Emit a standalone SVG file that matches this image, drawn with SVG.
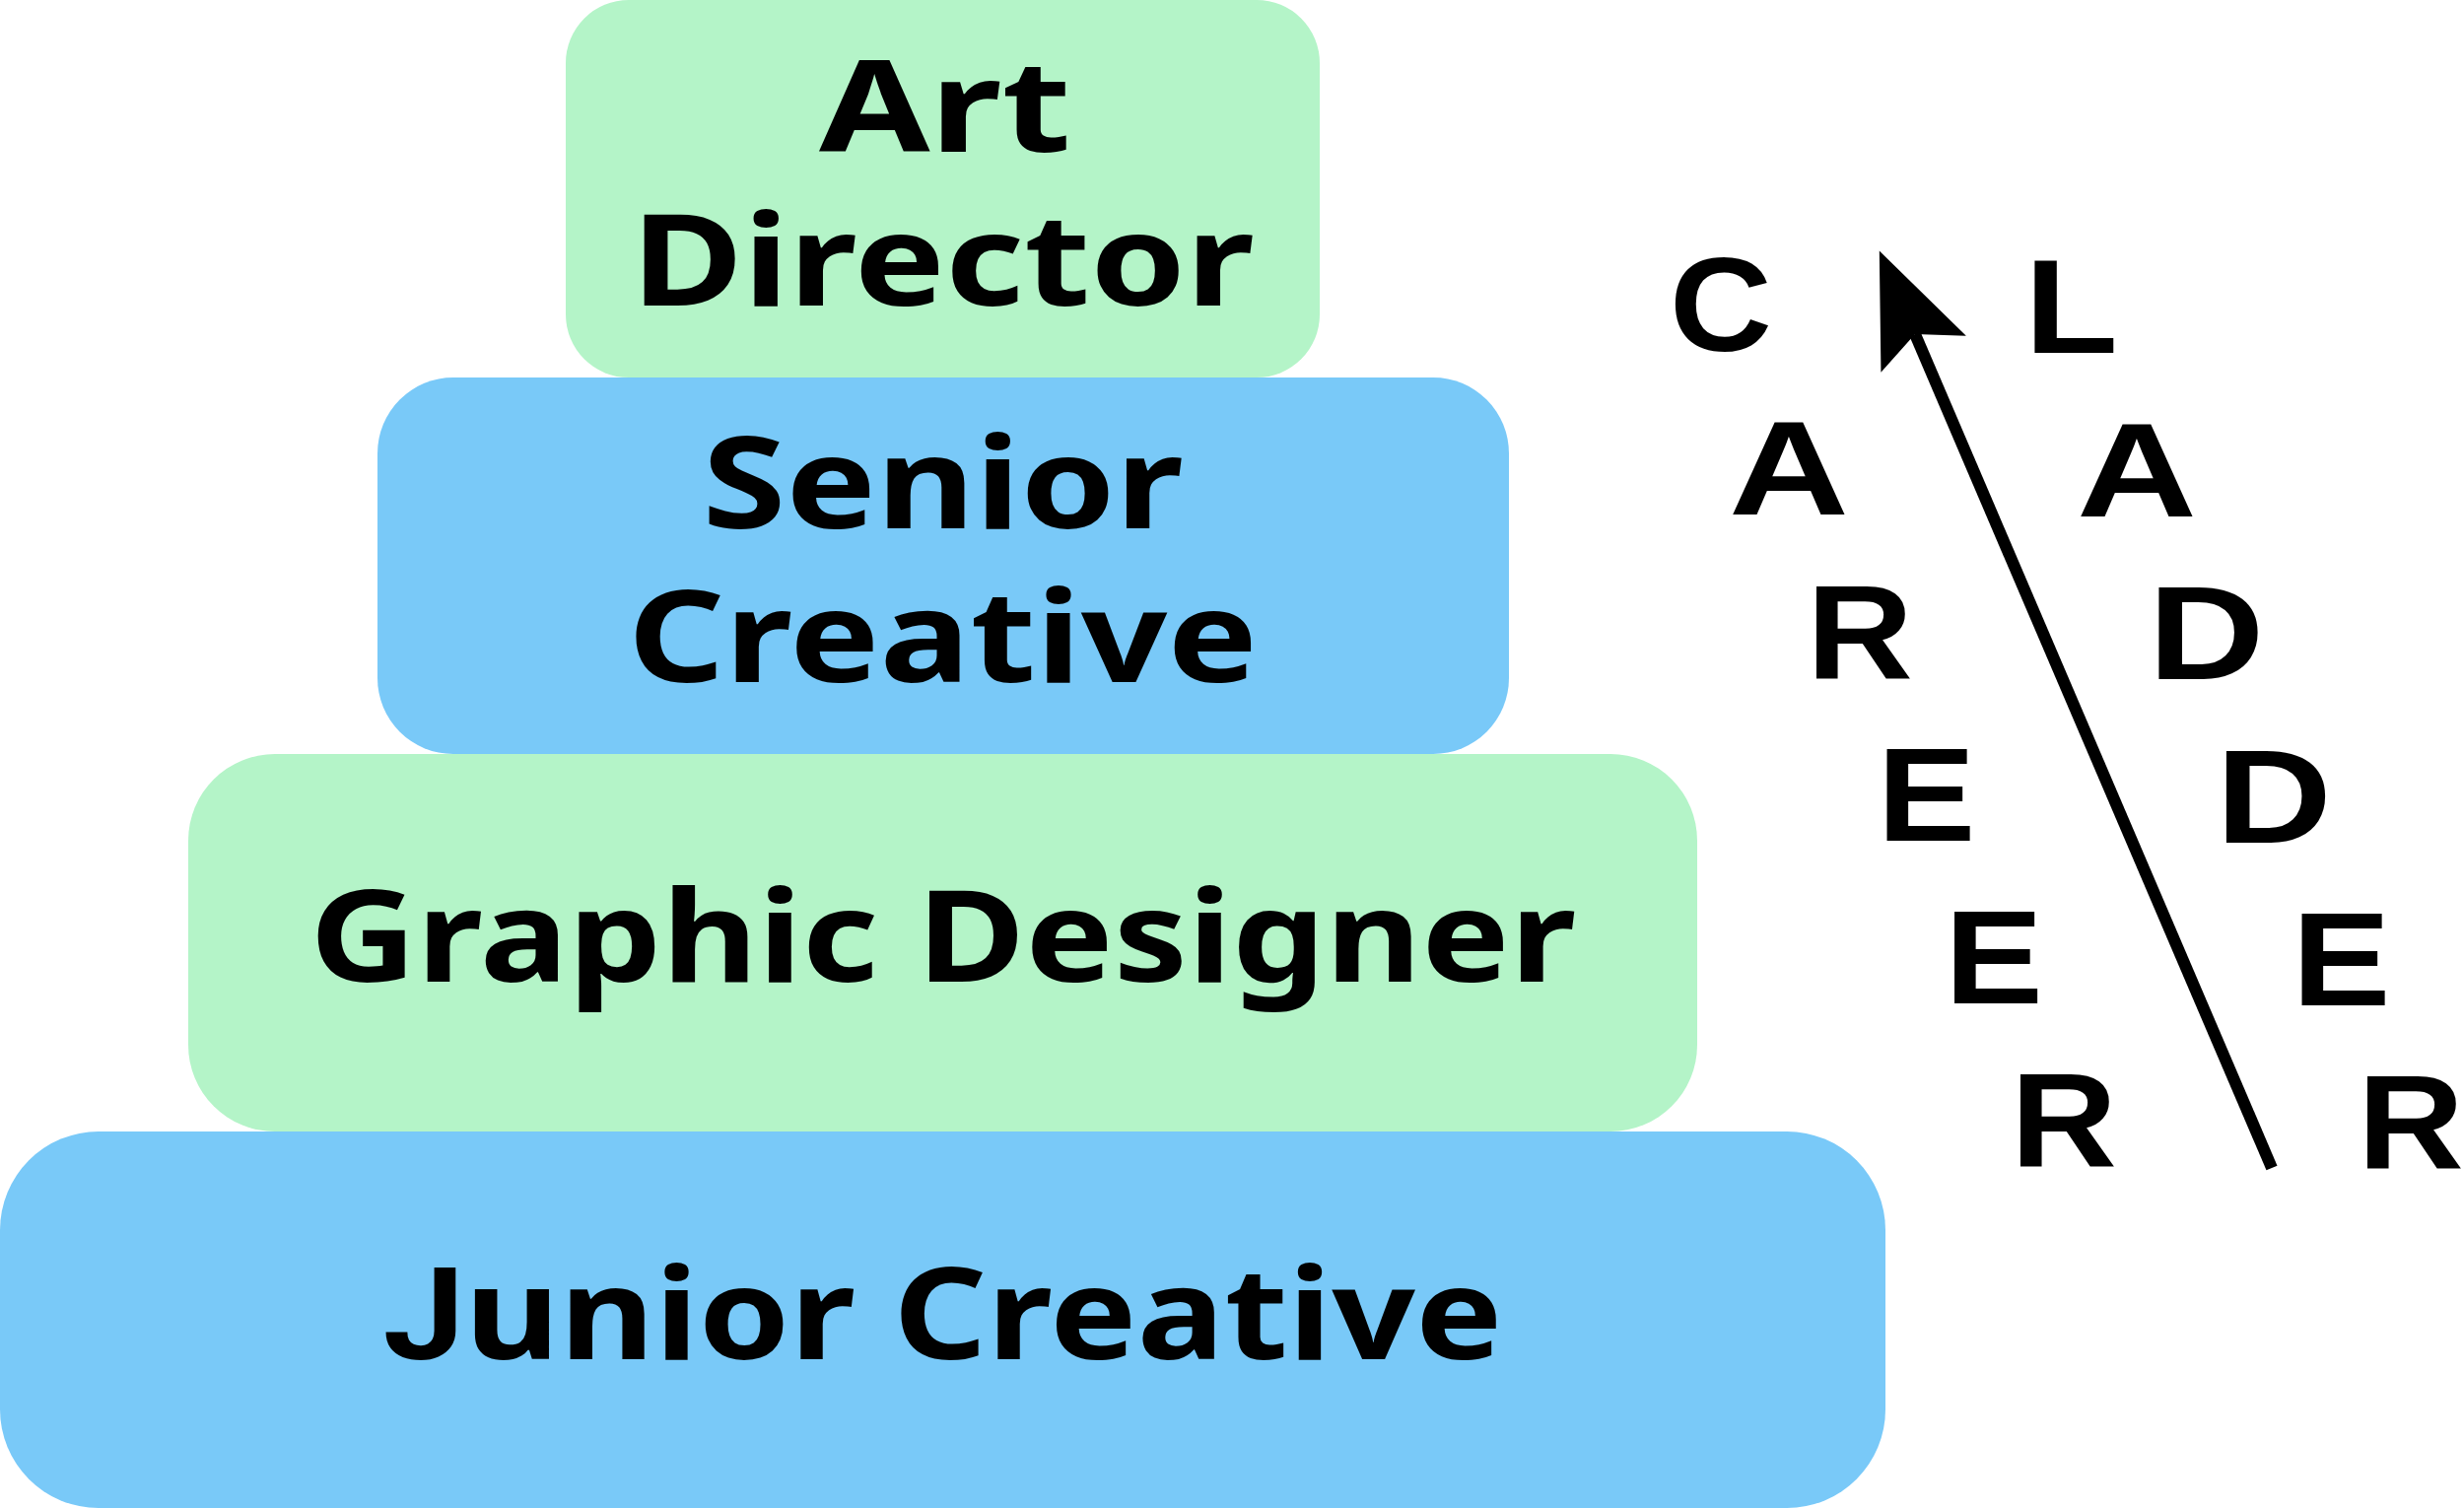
<svg xmlns="http://www.w3.org/2000/svg" width="2500" height="1530" viewBox="0 0 2500 1530">
  <style>
    .green { fill: #b4f4c8; }
    .blue { fill: #79c9f8; }
    .lbl { font-family: "Noto Sans", "Open Sans", "Liberation Sans", sans-serif; font-weight: 700; font-size: 129px; fill: #000; text-anchor: middle; }
    .j { font-family: Roboto, "Liberation Sans", sans-serif; font-weight: 700; }
    .ltr { font-family: "Liberation Sans", "DejaVu Sans", sans-serif; font-weight: 700; font-size: 135px; fill: #000; text-anchor: middle; }
    .conn { stroke: #000; stroke-width: 12; fill: none; }
  </style>
  <defs>
    <marker id="head" markerUnits="userSpaceOnUse" viewBox="-120 -50 125 100" refX="-92" refY="0" markerWidth="125" markerHeight="100" orient="auto">
      <path d="M0,0 L-114,-47 L-92,0 L-114,47 Z" fill="#000"/>
    </marker>
  </defs>
  <rect width="2500" height="1530" fill="#fff"/>

  <g id="junior-creative">
    <rect class="blue" x="0" y="1148" width="1913" height="382" rx="100" ry="100"/>
    <text class="lbl" x="956.5" y="1379" textLength="1136" lengthAdjust="spacingAndGlyphs"><tspan class="j">J</tspan>unior Creative</text>
  </g>
  <g id="graphic-designer">
    <rect class="green" x="191" y="765" width="1531" height="383" rx="88" ry="88"/>
    <text class="lbl" x="956.5" y="996" textLength="1285" lengthAdjust="spacingAndGlyphs">Graphic Designer</text>
  </g>
  <g id="senior-creative">
    <rect class="blue" x="383" y="383" width="1148" height="382" rx="77" ry="77"/>
    <text class="lbl"><tspan x="956.5" y="536" textLength="488" lengthAdjust="spacingAndGlyphs">Senior</tspan><tspan x="956.5" y="692" textLength="639" lengthAdjust="spacingAndGlyphs">Creative</tspan></text>
  </g>
  <g id="art-director">
    <rect class="green" x="574" y="0" width="765" height="383" rx="64" ry="64"/>
    <text class="lbl"><tspan x="959" y="154" textLength="256" lengthAdjust="spacingAndGlyphs">Art</tspan><tspan x="956.5" y="310" textLength="632" lengthAdjust="spacingAndGlyphs">Director</tspan></text>
  </g>

  <g id="career-label">
    <text class="ltr" x="1746" y="356" textLength="104" lengthAdjust="spacingAndGlyphs">C</text>
    <text class="ltr" x="1815" y="522" textLength="122" lengthAdjust="spacingAndGlyphs">A</text>
    <text class="ltr" x="1887" y="688" textLength="108" lengthAdjust="spacingAndGlyphs">R</text>
    <text class="ltr" x="1954.5" y="853" textLength="100" lengthAdjust="spacingAndGlyphs">E</text>
    <text class="ltr" x="2023" y="1018" textLength="100" lengthAdjust="spacingAndGlyphs">E</text>
    <text class="ltr" x="2094" y="1183" textLength="108" lengthAdjust="spacingAndGlyphs">R</text>
  </g>
  <g id="ladder-label">
    <text class="ltr" x="2101.5" y="358" textLength="95" lengthAdjust="spacingAndGlyphs">L</text>
    <text class="ltr" x="2168" y="524" textLength="122" lengthAdjust="spacingAndGlyphs">A</text>
    <text class="ltr" x="2238.5" y="689" textLength="118" lengthAdjust="spacingAndGlyphs">D</text>
    <text class="ltr" x="2307" y="855" textLength="118" lengthAdjust="spacingAndGlyphs">D</text>
    <text class="ltr" x="2375.5" y="1020" textLength="100" lengthAdjust="spacingAndGlyphs">E</text>
    <text class="ltr" x="2446" y="1185" textLength="108" lengthAdjust="spacingAndGlyphs">R</text>
  </g>

  <g id="connectors">
    <line class="conn" x1="2305" y1="1185" x2="1943" y2="339" marker-end="url(#head)"/>
  </g>
</svg>
